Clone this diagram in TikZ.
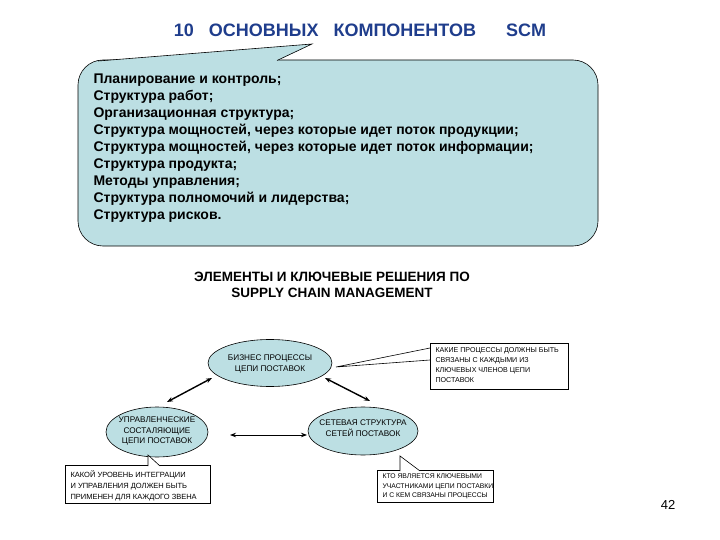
\documentclass[tikz,border=0pt]{standalone}
\usepackage{fontspec}
\setmainfont{Liberation Sans}
\usetikzlibrary{arrows.meta}
\definecolor{tealfill}{HTML}{BCDFE3}
\definecolor{titleblue}{HTML}{1F3D8C}
\tikzset{
  ell/.style={draw=black, fill=tealfill, line width=0.6pt},
  note/.style={draw=black, fill=white, line width=0.6pt},
  lbl/.style={font=\fontsize{8.2}{10.5}\selectfont, align=center},
  small/.style={align=left, anchor=north west},
  dbl/.style={{Stealth[length=6pt]}-{Stealth[length=6pt]}, line width=1.4pt},
  dblthin/.style={{Stealth[length=6pt]}-{Stealth[length=6pt]}, line width=0.8pt}
}
\begin{document}
\begin{tikzpicture}[x=1pt,y=-1pt]
\useasboundingbox (0,0) rectangle (720,540);
\node[font=\bfseries\fontsize{18}{20}\selectfont, text=titleblue] (title) at (360,30) {10\ \ \ ОСНОВНЫХ\ \ \ КОМПОНЕНТОВ\ \ \ \ \ \ SCM};
% callout
\draw[fill=tealfill, line width=0.6pt, rounded corners=25pt]
  (277,60) -- (598,60) -- (598,246) -- (78,246) -- (78,60) -- (120,60);
\fill[tealfill] (100,61) -- (312,44) -- (277,61) -- cycle;
\draw[line width=0.6pt] (98,61) -- (312,44) -- (277,60.5);
\coordinate (tip) at (312,44);
\node[anchor=north west, align=left, font=\bfseries\fontsize{14}{17}\selectfont] (list) at (90,70)
{Планирование и контроль;\\
Структура работ;\\
Организационная структура;\\
Структура мощностей, через которые идет поток продукции;\\
Структура мощностей, через которые идет поток информации;\\
Структура продукта;\\
Методы управления;\\
Структура полномочий и лидерства;\\
Структура рисков.};
\node[font=\bfseries\fontsize{13.5}{16}\selectfont, align=center] (head) at (332,285)
{ЭЛЕМЕНТЫ И КЛЮЧЕВЫЕ РЕШЕНИЯ ПО\\SUPPLY CHAIN MANAGEMENT};
% ellipses
\draw[ell] (270,363) ellipse (62 and 23.5);
\node[lbl] (bp) at (270,364) {БИЗНЕС ПРОЦЕССЫ\\ЦЕПИ ПОСТАВОК};
\draw[ell] (157,432) ellipse (51 and 25);
\node[lbl] (up) at (157,431) {УПРАВЛЕНЧЕСКИЕ\\СОСТАЛЯЮЩИЕ\\ЦЕПИ ПОСТАВОК};
\draw[ell] (363,431) ellipse (55 and 24);
\node[lbl] (ss) at (363,428) {СЕТЕВАЯ СТРУКТУРА\\СЕТЕЙ ПОСТАВОК};
\coordinate (a1) at (212,378); \coordinate (a2) at (167,402);
\coordinate (b1) at (325,378); \coordinate (b2) at (370,401);
\coordinate (c1) at (230,435); \coordinate (c2) at (307,435);
\draw[dbl] (a1) -- (a2);
\draw[dbl] (b1) -- (b2);
\draw[dblthin] (c1) -- (c2);
% notes
\draw[note] (430,343) rectangle (568,389);
\draw[line width=0.6pt] (430,348) -- (336,367) -- (430,360);
\node[small, font=\fontsize{7.1}{10}\selectfont] (n1) at (432,344) {КАКИЕ ПРОЦЕССЫ ДОЛЖНЫ БЫТЬ\\СВЯЗАНЫ С КАЖДЫМИ ИЗ\\КЛЮЧЕВЫХ ЧЛЕНОВ ЦЕПИ\\ПОСТАВОК};
\draw[note] (65,465) rectangle (210,503);
\draw[note] (148,466) -- (148,455) -- (160,466);
\node[small, font=\fontsize{7.5}{11}\selectfont] (n2) at (67,467) {КАКОЙ УРОВЕНЬ ИНТЕГРАЦИИ\\И УПРАВЛЕНИЯ ДОЛЖЕН БЫТЬ\\ПРИМЕНЕН ДЛЯ КАЖДОГО ЗВЕНА};
\draw[note] (377,470) rectangle (493,502);
\draw[note] (400,471) -- (400,456) -- (420,471);
\node[small, font=\fontsize{6.8}{9.5}\selectfont] (n3) at (379,470.5) {КТО ЯВЛЯЕТСЯ КЛЮЧЕВЫМИ\\УЧАСТНИКАМИ ЦЕПИ ПОСТАВКИ\\И С КЕМ СВЯЗАНЫ ПРОЦЕССЫ};
\node[font=\fontsize{13}{15}\selectfont] (pg) at (668,505) {42};
\end{tikzpicture}
\end{document}
